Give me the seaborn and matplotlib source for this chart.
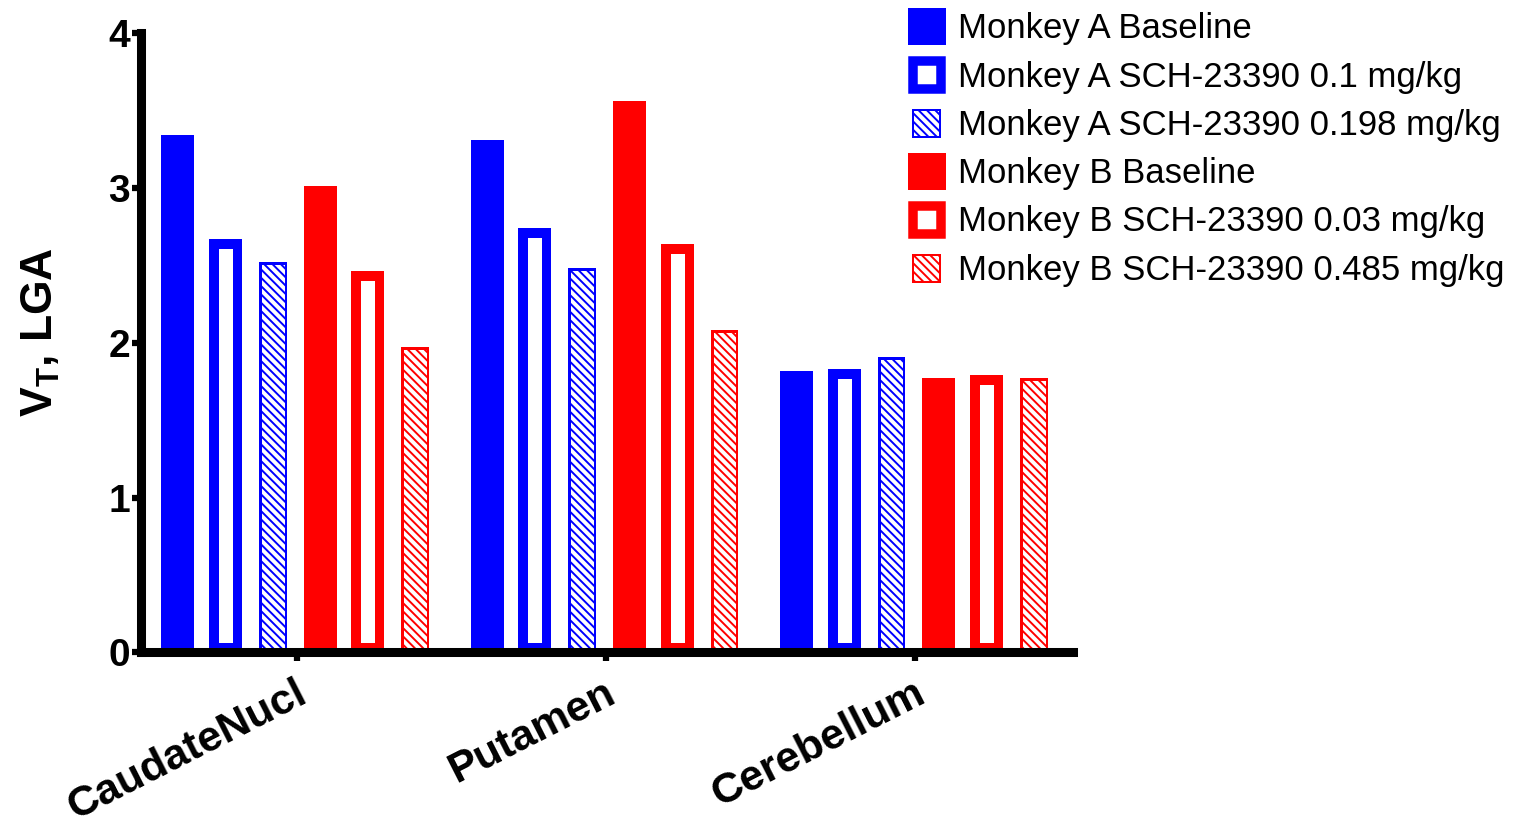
import numpy as np
import pandas as pd
import matplotlib
matplotlib.use("Agg")
import matplotlib.pyplot as plt
import matplotlib.transforms as mtransforms
import seaborn as sns
from matplotlib.patches import Rectangle, Patch
from matplotlib.legend_handler import HandlerPatch

# ---------------- data ----------------
regions = ["CaudateNucl", "Putamen", "Cerebellum"]
conditions = [
    "Monkey A Baseline",
    "Monkey A SCH-23390 0.1 mg/kg",
    "Monkey A SCH-23390 0.198 mg/kg",
    "Monkey B Baseline",
    "Monkey B SCH-23390 0.03 mg/kg",
    "Monkey B SCH-23390 0.485 mg/kg",
]
a_baseline = [3.34, 3.31, 1.82]
a_sch_01 = [2.67, 2.74, 1.83]
a_sch_0198 = [2.52, 2.48, 1.91]
b_baseline = [3.01, 3.56, 1.77]
b_sch_003 = [2.46, 2.64, 1.79]
b_sch_0485 = [1.97, 2.08, 1.77]
y_ticks = [0, 1, 2, 3, 4]
y_label = r"V$_{\mathbf{T}}$, LGA"

series = [a_baseline, a_sch_01, a_sch_0198, b_baseline, b_sch_003, b_sch_0485]
colors = ["#0000ff"] * 3 + ["#ff0000"] * 3
styles = ["solid", "open", "hatch"] * 2

rows = []
for cond, vals in zip(conditions, series):
    for reg, v in zip(regions, vals):
        rows.append({"region": reg, "condition": cond, "value": v})
df = pd.DataFrame(rows)

# ---------------- style ----------------
sns.set_style("ticks")
plt.rcParams["font.family"] = ["Liberation Sans", "DejaVu Sans"]
plt.rcParams["mathtext.fontset"] = "custom"
plt.rcParams["mathtext.rm"] = "Liberation Sans"
plt.rcParams["mathtext.bf"] = "Liberation Sans:bold"
plt.rcParams["hatch.linewidth"] = 1.4
for k in ["text.color", "axes.labelcolor", "xtick.color", "ytick.color",
          "xtick.labelcolor", "ytick.labelcolor", "axes.edgecolor"]:
    plt.rcParams[k] = "black"

PX = 0.72  # points per pixel at dpi 100

fig = plt.figure(figsize=(15.17, 8.33), dpi=100)
ax = fig.add_axes([0.0929, 0.2167, 0.6146, 0.7437])

sns.barplot(
    data=df, x="region", y="value", hue="condition",
    order=regions, hue_order=conditions,
    palette=dict(zip(conditions, colors)), saturation=1,
    width=0.92, gap=0.304, errorbar=None, legend=False, ax=ax,
)

HATCH = "\\\\\\\\"
for container, style, col in zip(ax.containers, styles, colors):
    for bar in container:
        if style == "solid":
            bar.set_facecolor(col)
            bar.set_edgecolor(col)
            bar.set_linewidth(0)
        elif style == "open":
            bar.set_facecolor("white")
            bar.set_edgecolor(col)
            bar.set_linewidth(2 * 9.5 * PX)
            bar.set_clip_path(bar)
        else:
            cx = bar.get_x() + bar.get_width() / 2
            w = 0.089
            bar.set_x(cx - w / 2)
            bar.set_width(w)
            bar.set_facecolor("white")
            bar.set_edgecolor(col)
            bar.set_hatch(HATCH)
            bar.set_linewidth(2 * 2.5 * PX)
            bar.set_clip_path(bar)

ax.set_xlim(-0.503, 2.511)
ax.set_ylim(0, 4)
ax.set_yticks(y_ticks)
ax.set_xlabel("")
ax.set_ylabel(y_label, fontsize=32, fontweight="bold")
ax.yaxis.set_label_coords(-0.085, 0.517)

for s in ["top", "right"]:
    ax.spines[s].set_visible(False)
for s in ["left", "bottom"]:
    ax.spines[s].set_linewidth(6.5)
    ax.spines[s].set_color("black")

ax.tick_params(axis="both", direction="out", width=4.5, length=6.5, color="black",
               labelsize=28, pad=1.5)
for lab in ax.get_yticklabels():
    lab.set_fontweight("bold")

offset = mtransforms.ScaledTranslation(-2 / 100, -10 / 100, fig.dpi_scale_trans)
for lab in ax.get_xticklabels():
    lab.set_fontweight("bold")
    lab.set_fontsize(31)
    lab.set_rotation(27)
    lab.set_ha("right")
    lab.set_rotation_mode("anchor")
    lab.set_transform(lab.get_transform() + offset)

# ---------------- legend ----------------
geom = {}
handles = []
for cond, style, col in zip(conditions, styles, colors):
    if style == "solid":
        h = Patch(facecolor=col, edgecolor=col, linewidth=0)
    elif style == "open":
        h = Patch(facecolor="white", edgecolor=col, linewidth=9.5 * PX)
    else:
        h = Patch(facecolor="white", edgecolor=col, linewidth=2 * PX, hatch=HATCH)
    geom[id(h)] = style
    handles.append(h)


def patch_func(legend, orig_handle, xdescent, ydescent, width, height, fontsize):
    style = geom[id(orig_handle)]
    x0, y0 = -xdescent, -ydescent
    if style == "solid":
        return Rectangle((x0, y0), width, height)
    if style == "open":
        lw = 9.5 * PX
        return Rectangle((x0 + lw / 2, y0 + lw / 2), width - lw, height - lw)
    s = 29 * PX - 2 * PX
    return Rectangle((x0 + (width - s) / 2, y0 + (height - s) / 2), s, s)


handler = HandlerPatch(patch_func=patch_func)
fig.legend(
    handles, conditions, loc="upper left", bbox_to_anchor=(0.5985, 0.990),
    frameon=False, fontsize=25, handlelength=1.095, handleheight=1.26,
    handletextpad=0.35, labelspacing=0.32, borderpad=0, borderaxespad=0,
    handler_map={h: handler for h in handles},
)

fig.savefig("out.png", dpi=100)
